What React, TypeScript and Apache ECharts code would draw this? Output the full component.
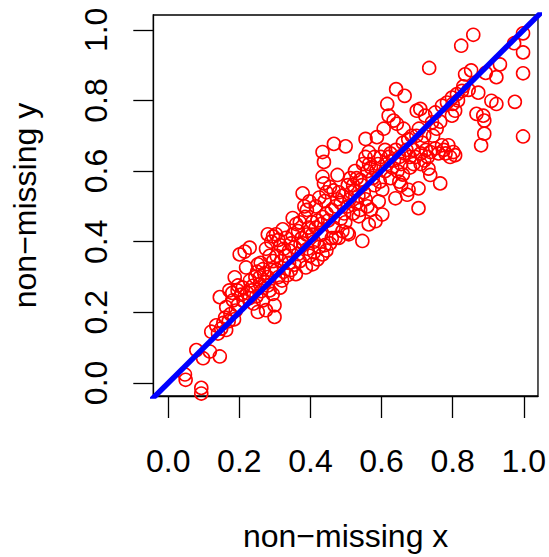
import React, { useEffect, useRef } from "react";
import * as echarts from "echarts";

const pointsLow: [number, number][] = [
  [0.047, 0.024], [0.049, 0.009], [0.093, -0.014], [0.093, -0.030], [0.079, 0.093],
  [0.098, 0.070], [0.145, 0.075], [0.117, 0.089], [0.121, 0.145], [0.149, 0.154],
  [0.163, 0.150], [0.135, 0.163], [0.140, 0.140], [0.155, 0.170], [0.170, 0.175],
  [0.160, 0.185], [0.145, 0.243], [0.163, 0.215], [0.182, 0.234], [0.175, 0.195],
  [0.190, 0.205], [0.185, 0.180], [0.195, 0.220], [0.180, 0.255], [0.195, 0.262],
  [0.187, 0.299], [0.172, 0.262], [0.196, 0.276],
];

const points02: [number, number][] = [
  [0.201, 0.364], [0.215, 0.372], [0.229, 0.383], [0.219, 0.327], [0.205, 0.250],
  [0.210, 0.270], [0.222, 0.255], [0.230, 0.290], [0.238, 0.275], [0.245, 0.300],
  [0.250, 0.315], [0.252, 0.336], [0.260, 0.340], [0.266, 0.322], [0.257, 0.299],
  [0.270, 0.310], [0.280, 0.276], [0.285, 0.262], [0.294, 0.252], [0.299, 0.220],
  [0.299, 0.187], [0.275, 0.206], [0.252, 0.201], [0.266, 0.234], [0.240, 0.225],
  [0.228, 0.240], [0.212, 0.232], [0.280, 0.300], [0.290, 0.320], [0.295, 0.345],
  [0.285, 0.360], [0.275, 0.380], [0.280, 0.421], [0.295, 0.415], [0.290, 0.400],
  [0.262, 0.260], [0.248, 0.245], [0.235, 0.262], [0.272, 0.285], [0.258, 0.280],
];

const points03: [number, number][] = [
  [0.303, 0.421], [0.322, 0.435], [0.331, 0.411], [0.310, 0.405], [0.315, 0.390],
  [0.325, 0.380], [0.305, 0.360], [0.318, 0.345], [0.330, 0.360], [0.340, 0.375],
  [0.345, 0.395], [0.350, 0.420], [0.350, 0.467], [0.360, 0.450], [0.365, 0.430],
  [0.370, 0.455], [0.378, 0.537], [0.383, 0.500], [0.385, 0.470], [0.390, 0.490],
  [0.397, 0.514], [0.375, 0.410], [0.380, 0.395], [0.390, 0.420], [0.395, 0.440],
  [0.359, 0.308], [0.387, 0.327], [0.370, 0.345], [0.355, 0.335], [0.345, 0.320],
  [0.335, 0.305], [0.320, 0.290], [0.310, 0.300], [0.305, 0.320], [0.340, 0.340],
  [0.365, 0.365], [0.392, 0.380], [0.398, 0.360], [0.315, 0.270], [0.325, 0.315],
  [0.355, 0.385], [0.372, 0.392],
];

const points04: [number, number][] = [
  [0.406, 0.336], [0.434, 0.364], [0.420, 0.350], [0.410, 0.370], [0.425, 0.385],
  [0.440, 0.390], [0.445, 0.375], [0.455, 0.395], [0.460, 0.410], [0.471, 0.411],
  [0.480, 0.411], [0.490, 0.430], [0.410, 0.400], [0.405, 0.420], [0.415, 0.440],
  [0.420, 0.460], [0.430, 0.450], [0.435, 0.470], [0.445, 0.480], [0.450, 0.460],
  [0.460, 0.490], [0.470, 0.500], [0.475, 0.520], [0.480, 0.540], [0.485, 0.510],
  [0.490, 0.530], [0.495, 0.480], [0.434, 0.584], [0.438, 0.565], [0.476, 0.589],
  [0.434, 0.654], [0.438, 0.626], [0.466, 0.677], [0.499, 0.670], [0.445, 0.540],
  [0.455, 0.555], [0.465, 0.545], [0.425, 0.525], [0.415, 0.500], [0.440, 0.515],
  [0.405, 0.455], [0.465, 0.440], [0.485, 0.465], [0.498, 0.455], [0.430, 0.420],
];

const points05: [number, number][] = [
  [0.504, 0.425], [0.508, 0.421], [0.536, 0.472], [0.546, 0.402], [0.564, 0.449],
  [0.583, 0.458], [0.555, 0.691], [0.564, 0.654], [0.587, 0.696], [0.505, 0.500],
  [0.510, 0.520], [0.515, 0.540], [0.520, 0.560], [0.525, 0.545], [0.530, 0.510],
  [0.535, 0.530], [0.540, 0.575], [0.545, 0.560], [0.550, 0.540], [0.555, 0.520],
  [0.560, 0.600], [0.565, 0.620], [0.570, 0.610], [0.575, 0.580], [0.580, 0.560],
  [0.585, 0.600], [0.590, 0.620], [0.592, 0.514], [0.595, 0.570], [0.560, 0.500],
  [0.570, 0.490], [0.540, 0.490], [0.520, 0.480], [0.512, 0.580], [0.525, 0.600],
  [0.548, 0.620], [0.555, 0.640], [0.580, 0.640], [0.598, 0.640], [0.505, 0.560],
  [0.530, 0.580],
];

const points06: [number, number][] = [
  [0.602, 0.547], [0.602, 0.477], [0.606, 0.720], [0.616, 0.790], [0.620, 0.757],
  [0.634, 0.743], [0.643, 0.734], [0.662, 0.720], [0.641, 0.832], [0.665, 0.813],
  [0.639, 0.523], [0.676, 0.547], [0.672, 0.533], [0.610, 0.600], [0.615, 0.620],
  [0.620, 0.640], [0.625, 0.650], [0.630, 0.610], [0.635, 0.630], [0.640, 0.660],
  [0.645, 0.600], [0.650, 0.640], [0.655, 0.620], [0.660, 0.680], [0.665, 0.650],
  [0.670, 0.660], [0.675, 0.690], [0.680, 0.640], [0.685, 0.700], [0.690, 0.660],
  [0.695, 0.640], [0.698, 0.700], [0.610, 0.660], [0.625, 0.580], [0.650, 0.570],
  [0.660, 0.590], [0.680, 0.610], [0.690, 0.620], [0.655, 0.560],
];

const points07: [number, number][] = [
  [0.704, 0.551], [0.704, 0.495], [0.699, 0.771], [0.709, 0.776], [0.723, 0.757],
  [0.742, 0.738], [0.751, 0.766], [0.734, 0.892], [0.732, 0.607], [0.737, 0.589],
  [0.765, 0.565], [0.737, 0.654], [0.751, 0.664], [0.770, 0.673], [0.788, 0.673],
  [0.793, 0.640], [0.784, 0.794], [0.770, 0.785], [0.798, 0.808], [0.798, 0.757],
  [0.710, 0.650], [0.715, 0.680], [0.720, 0.700], [0.725, 0.660], [0.730, 0.640],
  [0.745, 0.700], [0.755, 0.720], [0.760, 0.650], [0.775, 0.660], [0.780, 0.650],
  [0.710, 0.620], [0.720, 0.630], [0.765, 0.740], [0.705, 0.720],
];

const points08: [number, number][] = [
  [0.802, 0.654], [0.807, 0.645], [0.807, 0.771], [0.812, 0.818], [0.826, 0.827],
  [0.824, 0.955], [0.858, 0.986], [0.835, 0.874], [0.852, 0.885], [0.872, 0.822],
  [0.867, 0.762], [0.886, 0.757], [0.889, 0.743], [0.889, 0.706], [0.880, 0.673],
  [0.893, 0.878], [0.909, 0.799], [0.923, 0.790], [0.923, 0.866], [0.933, 0.902],
  [0.975, 0.796], [0.973, 0.962], [0.998, 0.990], [0.998, 0.936], [0.998, 0.877],
  [0.998, 0.698], [0.815, 0.800], [0.830, 0.840], [0.845, 0.830], [0.800, 0.790],
];

const allPoints = [
  ...pointsLow, ...points02, ...points03, ...points04,
  ...points05, ...points06, ...points07, ...points08,
];

const tickValues = [0, 0.2, 0.4, 0.6, 0.8, 1.0];
const identityLine: [number, number][] = [[-0.2, -0.2], [1.2, 1.2]];

const FONT = "Liberation Sans, Arial, Helvetica, sans-serif";

export default function App() {
  const ref = useRef<HTMLDivElement>(null);
  useEffect(() => {
    if (!ref.current) return;
    const chart = echarts.init(ref.current, null, { renderer: "svg" });
    chart.setOption({
      animation: false,
      backgroundColor: "#ffffff",
      grid: {
        left: 153.3, top: 15, width: 386.7, height: 385,
        show: true, borderColor: "#000", borderWidth: 1.3, backgroundColor: "transparent",
      },
      xAxis: {
        type: "value", min: -0.042, max: 1.04,
        splitLine: { show: false },
        axisLine: { show: true, onZero: false, lineStyle: { color: "#000", width: 1.3 } },
        axisTick: { show: true, inside: false, length: 22, customValues: tickValues, lineStyle: { color: "#000", width: 1.3 } },
        axisLabel: {
          customValues: tickValues, formatter: (v: number) => v.toFixed(1),
          margin: 49, fontSize: 32, fontFamily: FONT, color: "#000",
        },
        name: "non\u2212missing x", nameLocation: "middle", nameGap: 124,
        nameTextStyle: { fontSize: 32, fontFamily: FONT, color: "#000" },
      },
      yAxis: {
        type: "value", min: -0.037, max: 1.042,
        splitLine: { show: false },
        axisLine: { show: true, onZero: false, lineStyle: { color: "#000", width: 1.3 } },
        axisTick: { show: true, inside: false, length: 20, customValues: tickValues, lineStyle: { color: "#000", width: 1.3 } },
        axisLabel: {
          customValues: tickValues, formatter: (v: number) => v.toFixed(1), rotate: 90,
          margin: 41, fontSize: 32, fontFamily: FONT, color: "#000",
        },
        name: "non\u2212missing y", nameLocation: "middle", nameGap: 112,
        nameTextStyle: { fontSize: 32, fontFamily: FONT, color: "#000" },
      },
      series: [
        {
          type: "scatter", data: allPoints, symbol: "circle", symbolSize: 13, clip: true,
          itemStyle: { color: "rgba(255,0,0,0)", borderColor: "#ff0000", borderWidth: 1.6, opacity: 1 },
          z: 2,
        },
        {
          type: "line", data: identityLine, showSymbol: false, clip: true,
          lineStyle: { color: "#0000ff", width: 5.5 }, z: 3,
        },
      ],
    });
    return () => chart.dispose();
  }, []);
  return (
    <div
      ref={ref}
      style={{ position: "fixed", left: 0, top: 0, width: 549, height: 557, background: "#fff" }}
    />
  );
}
